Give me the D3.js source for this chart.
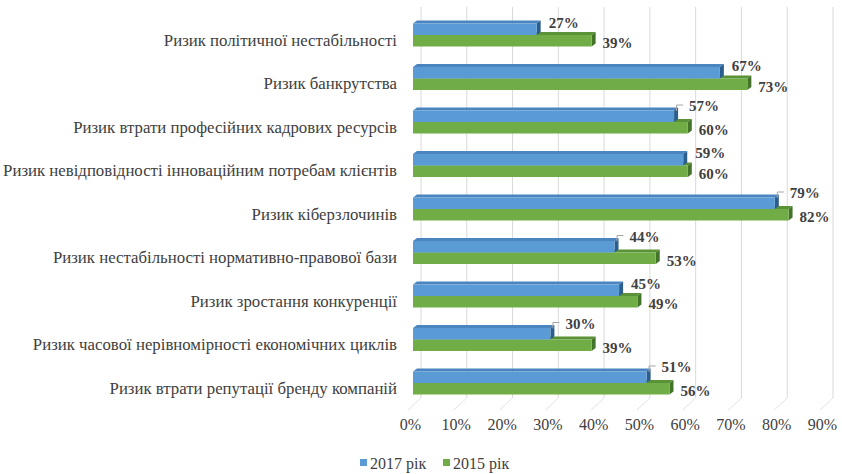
<!DOCTYPE html>
<html>
<head>
<meta charset="utf-8">
<script src="https://cdn.jsdelivr.net/npm/d3@7"></script>
</head>
<body style="margin:0; background:#fff">
<svg id="chart" width="842" height="474" font-family="Liberation Serif"></svg>
<script>
// Risk categories, top to bottom
const categories = [
  "Ризик політичної нестабільності",
  "Ризик банкрутства",
  "Ризик втрати професійних кадрових ресурсів",
  "Ризик невідповідності інноваційним потребам клієнтів",
  "Ризик кіберзлочинів",
  "Ризик нестабільності нормативно-правової бази",
  "Ризик зростання конкуренції",
  "Ризик часової нерівномірності економічних циклів",
  "Ризик втрати репутації бренду компаній"
];
const values2017 = [27, 67, 57, 59, 79, 44, 45, 30, 51];
const values2015 = [39, 73, 60, 60, 82, 53, 49, 39, 56];
// which 2017 labels are connected to their bar with a leader line
const leader2017 = [false, false, true, false, true, true, false, true, true];
const tickValues = [0, 10, 20, 30, 40, 50, 60, 70, 80, 90];
const seriesNames = ["2017 рік", "2015 рік"];

const FONT = "Liberation Serif";
const TEXT_COLOR = "#404040";

const svg = d3.select("#chart");

// 3D geometry: back wall, bar front plane, floor front edge
const wallTop = 7, wallBottom = 398, floorFront = 410;
const xBack  = d3.scaleLinear().domain([0, 90]).range([421, 833]);
const xBar   = d3.scaleLinear().domain([0, 90]).range([413, 825.2]);
const xFloor = d3.scaleLinear().domain([0, 90]).range([410, 822]);
const y = d3.scalePoint().domain(categories).range([35, 383]);

const barH = 11.5, depthX = 4, depthY = -3;

const colors = {
  s2017: { front: "#5b9bd5", top: "#4a85c0", side: "#2c5d8f" },
  s2015: { front: "#70ad47", top: "#5a9238", side: "#43742a" }
};

function styleText(sel, size, bold) {
  sel.attr("font-family", FONT)
    .style("font-family", `'${FONT}'`)
    .style("font-size", size + "px")
    .style("font-weight", bold ? "bold" : "normal")
    .style("fill", TEXT_COLOR);
}

// A 3D bar: front face, top face and right side
function drawBar(g, value, yTop, c) {
  const x0 = xBar(0), x1 = xBar(value), y1 = yTop + barH;
  g.append("path")
    .attr("d", `M${x0},${yTop} L${x1},${yTop} L${x1 + depthX},${yTop + depthY} L${x0 + depthX},${yTop + depthY} Z`)
    .attr("fill", c.top);
  g.append("path")
    .attr("d", `M${x1},${yTop} L${x1 + depthX},${yTop + depthY} L${x1 + depthX},${y1 + depthY} L${x1},${y1} Z`)
    .attr("fill", c.side);
  g.append("rect")
    .attr("x", x0).attr("y", yTop)
    .attr("width", x1 - x0).attr("height", barH)
    .attr("fill", c.front);
}

function render() {
  svg.selectAll("*").remove();

  // Back wall gridlines
  const grid = svg.append("g");
  grid.selectAll("line.wall").data(tickValues).join("line")
    .attr("class", "wall")
    .attr("x1", d => xBack(d)).attr("x2", d => xBack(d))
    .attr("y1", wallTop).attr("y2", wallBottom)
    .attr("stroke", "#d9d9d9").attr("stroke-width", 1);
  // Floor gridlines running to the front edge
  grid.selectAll("line.floor").data(tickValues).join("line")
    .attr("class", "floor")
    .attr("x1", d => xBack(d)).attr("y1", wallBottom)
    .attr("x2", d => xFloor(d) - 2).attr("y2", floorFront)
    .attr("stroke", "#e3e3e3").attr("stroke-width", 1);

  const bars = svg.append("g");
  categories.forEach((cat, i) => {
    const c = y(cat);
    const g = bars.append("g");
    drawBar(g, values2015[i], c, colors.s2015);
    drawBar(g, values2017[i], c - barH, colors.s2017);
  });

  // Value labels
  const labels = svg.append("g");
  const valueLabel = (x, yy, v) => {
    labels.append("text")
      .attr("x", x).attr("y", yy).attr("dy", "0.35em")
      .call(styleText, 15, true)
      .text(v + "%");
  };
  categories.forEach((cat, i) => {
    const c = y(cat);
    const e17 = xBar(values2017[i]);
    const e15 = xBar(values2015[i]);
    if (leader2017[i]) {
      svg.append("path")
        .attr("d", `M${e17 + 2.5},${c - 11} L${e17 + 2.5},${c - 17} L${e17 + 9},${c - 17}`)
        .attr("fill", "none").attr("stroke", "#a6a6a6").attr("stroke-width", 1);
      valueLabel(e17 + 15, c - 16, values2017[i]);
    } else {
      valueLabel(e17 + 12, c - 12.5, values2017[i]);
    }
    valueLabel(e15 + 11, c + 8, values2015[i]);
  });

  // Category axis
  const yAxis = svg.append("g")
    .attr("transform", "translate(397,5)")
    .call(d3.axisLeft(y).tickSize(0).tickPadding(0));
  yAxis.attr("font-family", FONT);
  yAxis.select(".domain").remove();
  yAxis.selectAll("text").call(styleText, 16.8, false);

  // Value axis along the floor front edge
  const xAxis = svg.append("g")
    .attr("transform", `translate(0,${floorFront})`)
    .call(d3.axisBottom(xFloor).tickValues(tickValues).tickFormat(d => d + "%").tickSize(0).tickPadding(9));
  xAxis.attr("font-family", FONT);
  xAxis.select(".domain").remove();
  xAxis.selectAll("text").call(styleText, 16, false);

  // Legend
  const legend = svg.append("g");
  const legendItems = [
    { name: seriesNames[0], color: colors.s2017.front, x: 360 },
    { name: seriesNames[1], color: colors.s2015.front, x: 443 }
  ];
  legendItems.forEach(it => {
    legend.append("rect")
      .attr("x", it.x).attr("y", 459).attr("width", 7).attr("height", 7)
      .attr("fill", it.color);
    legend.append("text")
      .attr("x", it.x + 10).attr("y", 469)
      .call(styleText, 16, false)
      .text(it.name);
  });
}

render();
// redraw once the serif face is ready so text metrics are final
if (document.fonts && document.fonts.load) {
  document.fonts.load(`16px '${FONT}'`).then(render).catch(() => {});
}
</script>
</body>
</html>
